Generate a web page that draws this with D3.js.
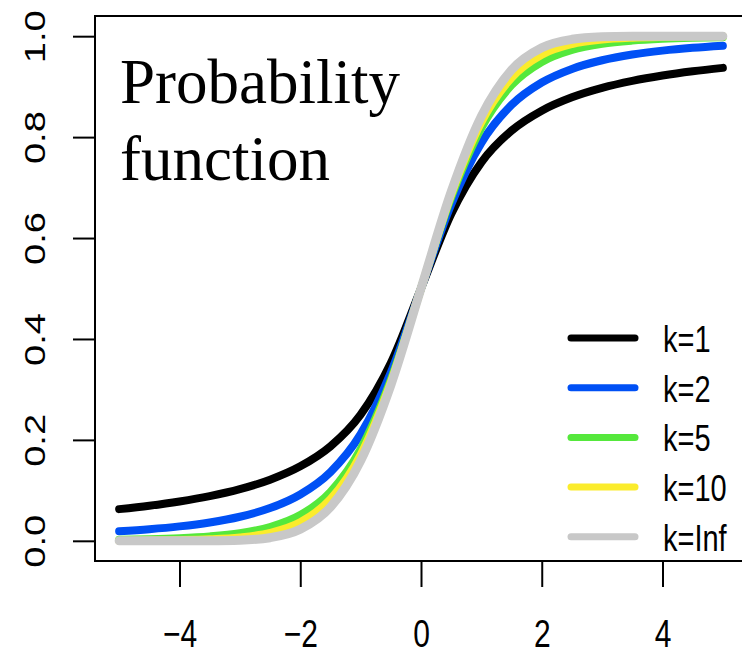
<!DOCTYPE html>
<html>
<head>
<meta charset="utf-8">
<script src="https://cdn.jsdelivr.net/npm/d3@7/dist/d3.min.js"></script>
<style>
  body { margin: 0; background: #fff; }
  svg { display: block; }
</style>
</head>
<body>
<div id="chart"></div>
<script>
// x positions of the points
var xs = [-5, -4.5, -4, -3.5, -3, -2.5, -2, -1.5, -1, -0.5, 0, 0.5, 1, 1.5, 2, 2.5, 3, 3.5, 4, 4.5, 5];

var k1 = [0.0628, 0.0696, 0.0780, 0.0886, 0.1024, 0.1211, 0.1476, 0.1872, 0.2500, 0.3524, 0.5,
          0.6476, 0.7500, 0.8128, 0.8524, 0.8789, 0.8976, 0.9114, 0.9220, 0.9304, 0.9372];
var k2 = [0.0189, 0.0230, 0.0286, 0.0364, 0.0477, 0.0648, 0.0918, 0.1362, 0.2113, 0.3333, 0.5,
          0.6667, 0.7887, 0.8638, 0.9082, 0.9352, 0.9523, 0.9636, 0.9714, 0.9770, 0.9811];
var k5 = [0.0021, 0.0032, 0.0052, 0.0087, 0.0150, 0.0272, 0.0510, 0.0970, 0.1816, 0.3191, 0.5,
          0.6809, 0.8184, 0.9030, 0.9490, 0.9728, 0.9850, 0.9913, 0.9948, 0.9968, 0.9979];
var k10 = [0.0003, 0.0006, 0.0013, 0.0029, 0.0067, 0.0157, 0.0367, 0.0823, 0.1704, 0.3139, 0.5,
           0.6861, 0.8296, 0.9177, 0.9633, 0.9843, 0.9933, 0.9971, 0.9987, 0.9994, 0.9997];
var kInf = [0.0000, 0.0000, 0.0000, 0.0002, 0.0013, 0.0062, 0.0228, 0.0668, 0.1587, 0.3085, 0.5,
            0.6915, 0.8413, 0.9332, 0.9772, 0.9938, 0.9987, 0.9998, 1.0000, 1.0000, 1.0000];

var seriesNames = ["k=1", "k=2", "k=5", "k=10", "k=Inf"];
var seriesValues = [k1, k2, k5, k10, kInf];
var colors = ["#000000", "#0050f5", "#55e83c", "#fbec2c", "#c8c8c8"];

var xTicks = [-4, -2, 0, 2, 4];
var yTicks = [0, 0.2, 0.4, 0.6, 0.8, 1.0];

var w = 742, h = 654;
var sans = "'Liberation Sans', Arial, sans-serif";
var stretch = 1.27; // the R text looks stretched vertically

var svg = d3.select("#chart").append("svg")
  .attr("width", w)
  .attr("height", h);

var x = d3.scaleLinear().domain([-5.4, 5.4]).range([95, 747]);
var y = d3.scaleLinear().domain([-0.04, 1.04]).range([561, 16]);

var line = d3.line()
  .x(function(d) { return x(d[0]); })
  .y(function(d) { return y(d[1]); })
  .curve(d3.curveMonotoneX);

// curves
seriesValues.forEach(function(vals, i) {
  svg.append("path")
    .datum(xs.map(function(v, j) { return [v, vals[j]]; }))
    .attr("d", line)
    .attr("fill", "none")
    .attr("stroke", colors[i])
    .attr("stroke-width", i == 4 ? 9 : 8)
    .attr("stroke-linecap", "round")
    .attr("stroke-linejoin", "round");
});

// box
svg.append("rect")
  .attr("x", 95).attr("y", 16)
  .attr("width", 652).attr("height", 545)
  .attr("fill", "none")
  .attr("stroke", "#000")
  .attr("stroke-width", 2);

// x axis
var xAxis = svg.append("g")
  .attr("transform", "translate(0,561)")
  .call(d3.axisBottom(x).tickValues(xTicks).tickSize(26).tickSizeOuter(0)
    .tickFormat(function(d) { return d < 0 ? "\u2212" + Math.abs(d) : d; }));
xAxis.select(".domain").remove();
xAxis.selectAll("line").attr("stroke-width", 2);
xAxis.selectAll("text")
  .attr("y", 0).attr("dy", 0)
  .attr("transform", "translate(0,86) scale(1," + stretch + ")")
  .style("font-family", sans)
  .style("font-size", "30px")
  .attr("fill", "#000");

// y axis
var yAxis = svg.append("g")
  .attr("transform", "translate(95,0)")
  .call(d3.axisLeft(y).tickValues(yTicks).tickSize(22).tickSizeOuter(0)
    .tickFormat(d3.format(".1f")));
yAxis.select(".domain").remove();
yAxis.selectAll("line").attr("stroke-width", 2);
yAxis.selectAll("text")
  .attr("x", 0).attr("dy", 0)
  .attr("transform", "translate(-50,0) scale(1," + stretch + ") rotate(-90)")
  .attr("text-anchor", "middle")
  .style("font-family", sans)
  .style("font-size", "30px")
  .attr("fill", "#000");

// title
var title = svg.append("text")
  .style("font-family", "'Liberation Serif', 'Times New Roman', serif")
  .style("font-size", "63px")
  .attr("fill", "#000");
title.append("tspan").attr("x", 120).attr("y", 103).text("Probability");
title.append("tspan").attr("x", 120).attr("y", 180).text("function");

// legend
var legend = svg.append("g");
seriesNames.forEach(function(name, i) {
  var ly = 338 + i * 49.7;
  legend.append("line")
    .attr("x1", 571).attr("x2", 635)
    .attr("y1", ly).attr("y2", ly)
    .attr("stroke", colors[i])
    .attr("stroke-width", 7)
    .attr("stroke-linecap", "round");
  legend.append("text")
    .attr("x", 0).attr("y", 0)
    .attr("transform", "translate(663," + (ly + 14) + ") scale(1," + stretch + ")")
    .style("font-family", sans)
    .style("font-size", "29px")
    .attr("fill", "#000")
    .text(name);
});
</script>
</body>
</html>
